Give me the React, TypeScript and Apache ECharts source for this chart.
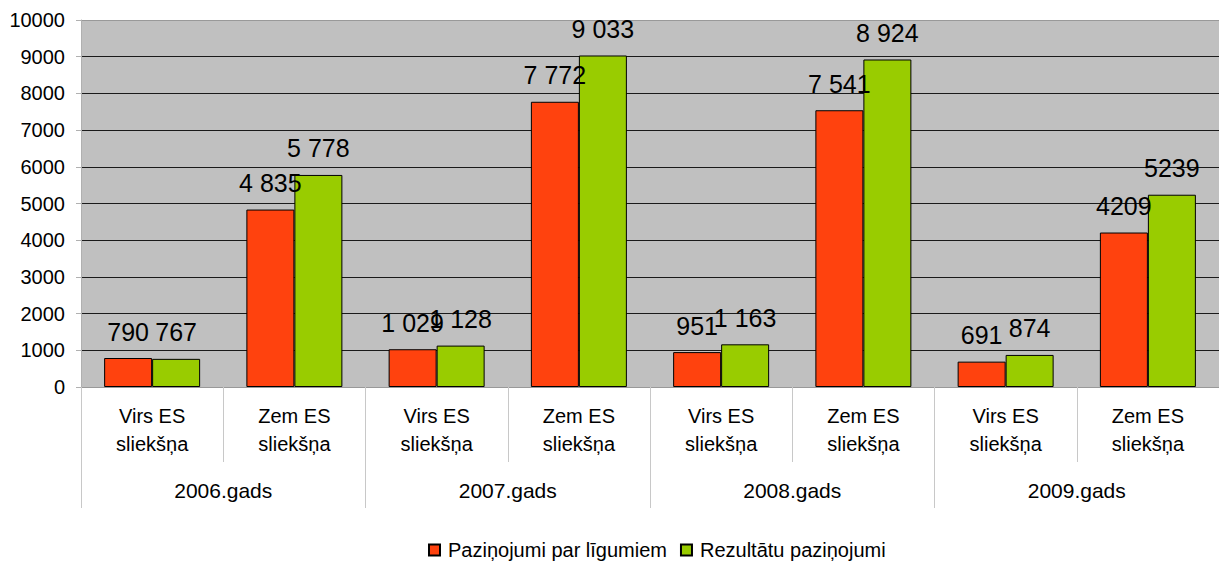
import React, { useEffect, useRef } from "react";
import * as echarts from "echarts";

const categories = [
  "Virs ES\nsliekšņa", "Zem ES\nsliekšņa",
  "Virs ES\nsliekšņa", "Zem ES\nsliekšņa",
  "Virs ES\nsliekšņa", "Zem ES\nsliekšņa",
  "Virs ES\nsliekšņa", "Zem ES\nsliekšņa",
];
const groups = ["2006.gads", "2007.gads", "2008.gads", "2009.gads"];
const seriesNames = ["Paziņojumi par līgumiem", "Rezultātu paziņojumi"];
const contractValues = [790, 4835, 1029, 7772, 951, 7541, 691, 4209];
const resultValues = [767, 5778, 1128, 9033, 1163, 8924, 874, 5239];
const contractLabels = ["790", "4 835", "1 029", "7 772", "951", "7 541", "691", "4209"];
const resultLabels = ["767", "5 778", "1 128", "9 033", "1 163", "8 924", "874", "5239"];
const yTicks = [0, 1000, 2000, 3000, 4000, 5000, 6000, 7000, 8000, 9000, 10000];

const FONT = "'Liberation Sans', Arial, sans-serif";

export default function App() {
  const ref = useRef<HTMLDivElement>(null);
  useEffect(() => {
    document.body.style.margin = "0";
    const chart = echarts.init(ref.current!, null, { renderer: "svg" });
    const splitColors = yTicks.map((_, i) => (i === yTicks.length - 1 ? "#999999" : "#1a1a1a"));
    const labelStyle = {
      show: true,
      position: "top" as const,
      distance: 14,
      fontSize: 25,
      fontFamily: FONT,
      color: "#000",
    };
    chart.setOption({
      animation: false,
      textStyle: { fontFamily: FONT },
      grid: { left: 81, right: 0, top: 20, bottom: 175, containLabel: false, show: true, backgroundColor: "#c0c0c0", borderWidth: 0 },
      legend: {
        left: 423,
        top: 535,
        itemWidth: 11,
        itemHeight: 11,
        itemGap: 13,
        icon: "rect",
        textStyle: { fontSize: 20, fontFamily: FONT, color: "#000", padding: [0, 0, 0, 3] },
        data: seriesNames,
      },
      xAxis: [
        {
          type: "category",
          data: categories,
          position: "bottom",
          axisLine: { show: true, lineStyle: { color: "#999999", width: 1 } },
          axisTick: { show: true, length: 75, interval: 0, lineStyle: { color: "#c8c8c8" } },
          axisLabel: { interval: 0, fontSize: 20, lineHeight: 28, margin: 15, color: "#000", fontFamily: FONT },
          splitLine: { show: false },
        },
        {
          type: "category",
          data: groups,
          position: "bottom",
          axisLine: { show: false },
          axisTick: { show: true, length: 121, interval: 0, lineStyle: { color: "#c8c8c8" } },
          axisLabel: { interval: 0, fontSize: 21, margin: 93, color: "#000", fontFamily: FONT },
          splitLine: { show: false },
        },
      ],
      yAxis: {
        type: "value",
        min: 0,
        max: 10000,
        interval: 1000,
        axisLine: { show: true, lineStyle: { color: "#b0b0b0" } },
        axisTick: { show: true, length: 5, lineStyle: { color: "#b0b0b0" } },
        axisLabel: { fontSize: 20, margin: 16, color: "#000", fontFamily: FONT, formatter: (v: number) => String(v) },
        splitLine: { show: true, lineStyle: { color: splitColors, width: 1 } },
      },
      series: [
        {
          name: seriesNames[0],
          type: "bar",
          xAxisIndex: 0,
          data: contractValues,
          barWidth: 48,
          barGap: "0%",
          itemStyle: { color: "#ff420e", borderColor: "#000", borderWidth: 1 },
          label: { ...labelStyle, formatter: (p: any) => contractLabels[p.dataIndex] },
        },
        {
          name: seriesNames[1],
          type: "bar",
          xAxisIndex: 0,
          data: resultValues,
          barWidth: 48,
          barGap: "0%",
          itemStyle: { color: "#99cc00", borderColor: "#000", borderWidth: 1 },
          label: { ...labelStyle, formatter: (p: any) => resultLabels[p.dataIndex] },
        },
      ],
    });
    return () => chart.dispose();
  }, []);
  return <div ref={ref} style={{ width: 1219, height: 562 }} />;
}
